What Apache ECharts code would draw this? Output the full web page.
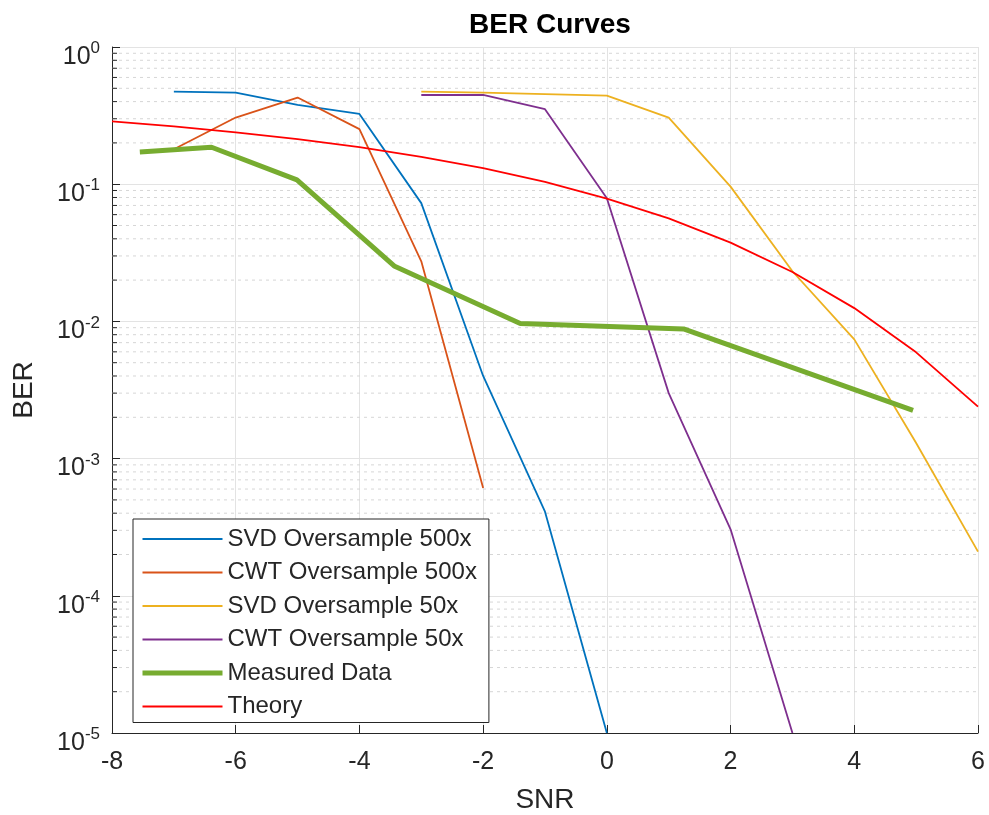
<!DOCTYPE html>
<html><head><meta charset="utf-8">
<script src="https://cdn.jsdelivr.net/npm/echarts@6/dist/echarts.min.js"></script>
<style>html,body{margin:0;padding:0;background:#fff}#c{width:989px;height:815px}</style>
</head><body><div id="c"></div>
<script>
// ---- data ----
const snrSvd500 = [-7, -6, -5, -4, -3, -2, -1, 0];
const berSvd500 = [0.473, 0.465, 0.378, 0.325, 0.0728, 0.0040, 4.1e-4, 1.0e-5];

const snrCwt500 = [-7, -6, -5, -4, -3, -2];
const berCwt500 = [0.180, 0.306, 0.428, 0.252, 0.0274, 6.1e-4];

const snrSvd50 = [-3, -2, -1, 0, 1, 2, 3, 4, 5, 6];
const berSvd50 = [0.473, 0.465, 0.453, 0.442, 0.306, 0.096, 0.0232, 0.0074, 0.0013, 2.1e-4];

const snrCwt50 = [-3, -2, -1, 0, 1, 2, 3];
const berCwt50 = [0.447, 0.447, 0.352, 0.079, 0.0030, 3.05e-4, 1.0e-5];

const snrMeasured = [-7.55, -6.39, -5.01, -3.43, -1.40, 1.24, 4.95];
const berMeasured = [0.172, 0.186, 0.1076, 0.0252, 0.00964, 0.00882, 0.00225];

const snrTheory = [-8, -7, -6, -5, -4, -3, -2, -1, 0, 1, 2, 3, 4, 5, 6];
const berTheory = [0.287, 0.264, 0.239, 0.213, 0.186, 0.158, 0.131, 0.104, 0.0786, 0.0563, 0.0375, 0.0229, 0.0125, 0.00595, 0.00239];

const seriesNames = ['SVD Oversample 500x', 'CWT Oversample 500x', 'SVD Oversample 50x', 'CWT Oversample 50x', 'Measured Data', 'Theory'];
const seriesColors = ['#0072BD', '#D95319', '#EDB120', '#7E2F8E', '#77AC30', '#FF0000'];
const seriesWidths = [1.8, 1.8, 1.8, 1.8, 5, 1.8];
const xTicks = [-8, -6, -4, -2, 0, 2, 4, 6];

const X_MIN = -8, X_MAX = 6, Y_MIN = 1e-5, Y_MAX = 1;
const AX = '#262626';
const FONT = 'Liberation Sans';

function zip(xs, ys) { return xs.map((x, i) => [x, ys[i]]); }

// minor log grid positions (2..9 x 10^k)
const minorVals = [];
for (let k = -5; k < 0; k++) for (let m = 2; m <= 9; m++) minorVals.push([X_MIN, m * Math.pow(10, k)]);

function lineSeries(i, data) {
  return {
    name: seriesNames[i], type: 'line', data, symbol: 'none', showSymbol: false, z: 3,
    lineStyle: { color: seriesColors[i], width: seriesWidths[i] }, itemStyle: { color: seriesColors[i] },
    emphasis: { disabled: true }, animation: false
  };
}

const chart = echarts.init(document.getElementById('c'), null, { renderer: 'canvas' });
chart.setOption({
  animation: false,
  backgroundColor: '#fff',
  title: {
    text: 'BER Curves', left: 545, top: 6, textAlign: 'center',
    textStyle: { fontFamily: FONT, fontSize: 28, fontWeight: 'bold', color: '#000' }
  },
  grid: { left: 112, right: 11, top: 47, bottom: 82, containLabel: false, outerBoundsMode: 'none' },
  legend: {
    orient: 'vertical', left: 133, top: 519,
    data: seriesNames.map((n, i) => ({ name: n, lineStyle: { width: seriesWidths[i], color: seriesColors[i] } })),
    itemWidth: 80, itemHeight: 14, itemGap: 9.5,
    padding: [8, 12, 4, 7],
    borderColor: AX, borderWidth: 1, backgroundColor: '#fff',
    itemStyle: { opacity: 0 },
    textStyle: { fontFamily: FONT, fontSize: 24, lineHeight: 24, color: AX },
    selectedMode: false
  },
  xAxis: {
    type: 'value', min: X_MIN, max: X_MAX, interval: 2,
    name: 'SNR', nameLocation: 'middle', nameGap: 53,
    nameTextStyle: { fontFamily: FONT, fontSize: 28, color: AX },
    axisLine: { show: true, onZero: false, lineStyle: { color: AX, width: 1 } },
    axisTick: { show: true, inside: true, length: 8, lineStyle: { color: AX } },
    axisLabel: {
      fontFamily: FONT, fontSize: 25, color: AX, margin: 17,
      formatter: v => xTicks.indexOf(v) >= 0 ? String(v) : ''
    },
    splitLine: { show: true, lineStyle: { color: '#e3e3e3', width: 1 } }
  },
  yAxis: {
    type: 'log', logBase: 10, min: Y_MIN, max: Y_MAX, splitNumber: 5,
    name: 'BER', nameLocation: 'middle', nameGap: 74,
    nameTextStyle: { fontFamily: FONT, fontSize: 28, color: AX },
    axisLine: { show: true, onZero: false, lineStyle: { color: AX, width: 1 } },
    axisTick: { show: true, inside: true, length: 8, lineStyle: { color: AX } },
    axisLabel: {
      margin: 12, padding: [20, 0, 0, 0],
      formatter: v => '{b|10}{s|' + Math.round(Math.log10(v)) + '}',
      rich: {
        b: { fontFamily: FONT, fontSize: 25, lineHeight: 34, color: AX },
        s: { fontFamily: FONT, fontSize: 17, lineHeight: 17, verticalAlign: 'top', color: AX }
      }
    },
    splitLine: { show: true, lineStyle: { color: '#e3e3e3', width: 1 } }
  },
  series: [
    {
      type: 'custom', coordinateSystem: 'cartesian2d', silent: true, z: 1,
      data: minorVals, encode: { x: 0, y: 1 }, animation: false,
      renderItem(params, api) {
        const y = api.value(1);
        const p1 = api.coord([X_MIN, y]);
        const p2 = api.coord([X_MAX, y]);
        return {
          type: 'group', children: [
            { type: 'line', shape: { x1: p1[0], y1: p1[1], x2: p2[0], y2: p2[1] },
              style: { stroke: '#d6d6d6', lineWidth: 1, lineDash: [3, 4] } },
            { type: 'line', shape: { x1: p1[0], y1: p1[1], x2: p1[0] + 5, y2: p1[1] },
              style: { stroke: AX, lineWidth: 1 } }
          ]
        };
      }
    },
    lineSeries(0, zip(snrSvd500, berSvd500)),
    lineSeries(1, zip(snrCwt500, berCwt500)),
    lineSeries(2, zip(snrSvd50, berSvd50)),
    lineSeries(3, zip(snrCwt50, berCwt50)),
    lineSeries(4, zip(snrMeasured, berMeasured)),
    lineSeries(5, zip(snrTheory, berTheory))
  ]
});
</script>
</body></html>
